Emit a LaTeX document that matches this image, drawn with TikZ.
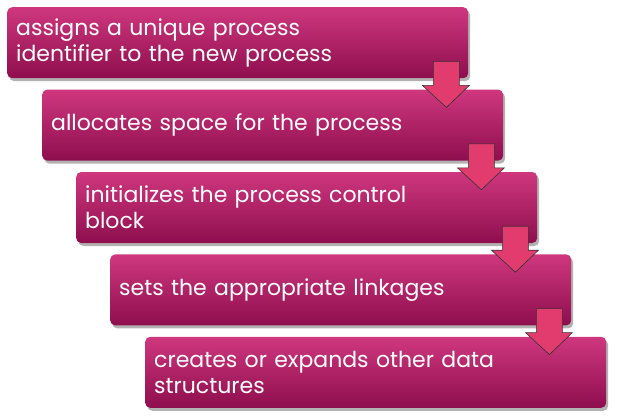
\documentclass[tikz,border=0pt]{standalone}
\usepackage{fontspec}
\setmainfont{Poppins}
\usepackage{tikz}
\usetikzlibrary{positioning}
\usetikzlibrary{shadows}
\definecolor{boxtop}{RGB}{207,55,126}
\definecolor{boxmid}{RGB}{196,46,114}
\definecolor{boxbottom}{RGB}{142,14,78}
\definecolor{arrowfill}{RGB}{226,60,110}
\tikzset{stepbox/.style={rectangle, rounded corners=5bp, minimum width=461bp, minimum height=71bp, text width=443bp, align=left, inner sep=9bp, top color=boxtop, middle color=boxmid, bottom color=boxbottom, text=white, font=\fontsize{22bp}{26bp}\selectfont, drop shadow={shadow xshift=2bp, shadow yshift=-3bp, opacity=0.3, fill=black}}}

\begin{document}
\begin{tikzpicture}[
    x=1bp, y=1bp,
    downarrow/.style={draw=black!80, fill=arrowfill, line width=0.6bp, line join=miter}
]
\useasboundingbox (0,0) rectangle (619,417);

% Steps
\node[stepbox, anchor=north west] (assign) at (7,410) {assigns a unique process\\identifier to the new process};
\node[stepbox, below right=11bp and 35bp of assign.south west] (alloc) {allocates space for the process};
\node[stepbox, below right=11bp and 34bp of alloc.south west] (init) {initializes the process control\\block};
\node[stepbox, below right=11bp and 34bp of init.south west] (link) {sets the appropriate linkages};
\node[stepbox, below right=11bp and 35bp of link.south west] (create) {creates or expands other data\\structures};

% Arrows
\foreach \a in {assign, alloc, init, link}
  \draw[downarrow] ([shift={(-35bp,17bp)}]\a.south east) -- ++(26,0) -- ++(0,-24)
    -- ++(10,0) -- ++(-23,-22) -- ++(-24,22) -- ++(11,0) -- cycle;

\end{tikzpicture}
\end{document}
